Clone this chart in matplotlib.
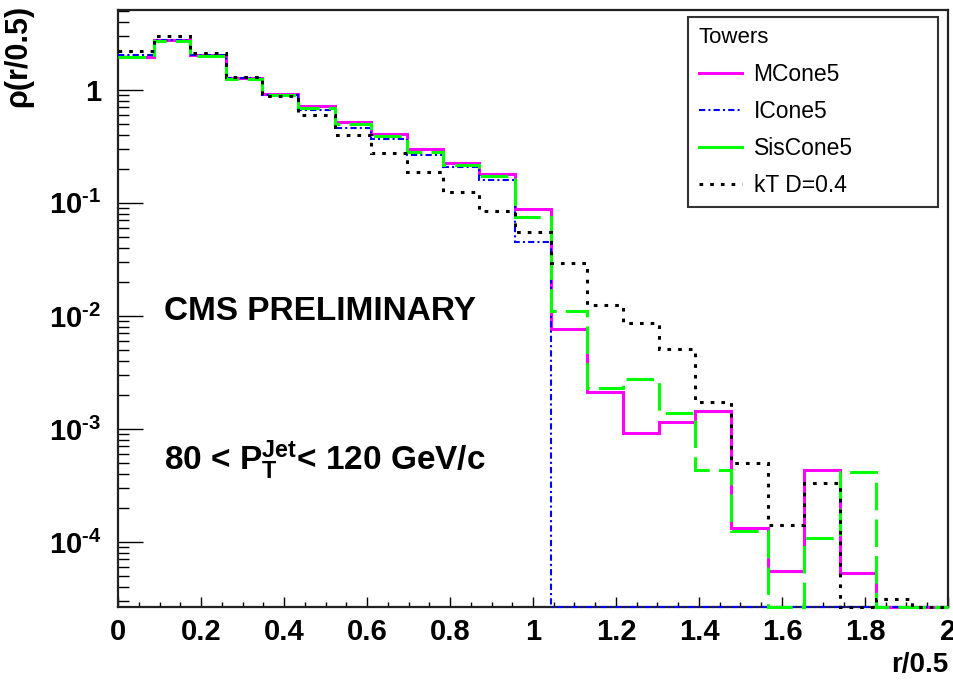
import numpy as np
import matplotlib
matplotlib.use('Agg')
import matplotlib.pyplot as plt
from matplotlib.lines import Line2D
from matplotlib.ticker import FixedLocator, FixedFormatter, LogLocator, MultipleLocator, NullFormatter

plt.rcParams['font.family'] = ['Liberation Sans', 'DejaVu Sans']
plt.rcParams['font.weight'] = 'bold'
plt.rcParams['mathtext.fontset'] = 'custom'
plt.rcParams['mathtext.rm'] = 'Liberation Sans:bold'
plt.rcParams['mathtext.it'] = 'Liberation Sans:bold'
plt.rcParams['mathtext.bf'] = 'Liberation Sans:bold'

## histogram binning, r/0.5 from 0 to 2
n_bins = 23
edges = np.linspace(0, 2, n_bins + 1)

## jet shape per algorithm (towers), 80 < pT < 120
mcone5 = [1.96, 2.75, 2.02, 1.27, 0.91, 0.72, 0.52, 0.41, 0.30, 0.226, 0.181, 0.0885,
          0.00767, 0.00212, 0.00092, 0.00115, 0.00144, 0.000133, 5.5e-5, 0.000434, 5.3e-5, 0, 0]
icone5 = [2.04, 2.75, 2.02, 1.26, 0.90, 0.665, 0.46, 0.37, 0.266, 0.208, 0.16, 0.045,
          0, 0, 0, 0, 0, 0, 0, 0, 0, 0, 0]
siscone5 = [1.96, 2.71, 2.0, 1.25, 0.90, 0.693, 0.50, 0.39, 0.282, 0.217, 0.174, 0.075,
            0.0111, 0.00231, 0.00277, 0.00139, 0.000434, 0.000125, 0, 0.000108, 0.000416, 0, 0]
kt04 = [2.21, 3.0, 2.12, 1.30, 0.885, 0.60, 0.40, 0.277, 0.188, 0.125, 0.085, 0.0554,
        0.0294, 0.0125, 0.00867, 0.0051, 0.00173, 0.0005, 0.000141, 0.000333, 0, 3.1e-5, 0]

y_ticks = [1e-4, 1e-3, 1e-2, 1e-1, 1]
y_tick_labels = ['$10^{\u20104}$', '$10^{\u20103}$', '$10^{\u20102}$', '$10^{\u20101}$', '1']

ymin, ymax = 2.66e-5, 5.1

fig = plt.figure(figsize=(9.54, 6.84), dpi=100)
ax = fig.add_axes([0.1237, 0.1126, 0.870, 0.873])
ax.set_yscale('log')

def draw(vals, **kw):
    v = np.array(vals, dtype=float)
    v = np.where(v > 0, v, ymin)  # empty bins sit on the frame like in ROOT
    ax.stairs(v, edges, baseline=None, clip_on=False, zorder=3, **kw)

draw(mcone5, color='#ff00ff', lw=2.2, linestyle='-')
draw(icone5, color='#0000ff', lw=1.5, linestyle=(0, (3, 1.5, 1, 1.5)))
draw(siscone5, color='#00ff00', lw=2.2, linestyle=(0, (9, 3)))
draw(kt04, color='black', lw=2.2, linestyle=(0, (1.2, 2.3)))

ax.set_xlim(0, 2)
ax.set_ylim(ymin, ymax)

ax.xaxis.set_major_locator(MultipleLocator(0.2))
ax.xaxis.set_minor_locator(MultipleLocator(0.05))
ax.xaxis.set_major_formatter(matplotlib.ticker.FuncFormatter(lambda x, p: '%g' % round(x, 1)))
ax.yaxis.set_major_locator(FixedLocator(y_ticks))
ax.yaxis.set_major_formatter(FixedFormatter(y_tick_labels))
ax.yaxis.set_minor_locator(LogLocator(base=10, subs=np.arange(2, 10)))
ax.yaxis.set_minor_formatter(NullFormatter())

ax.tick_params(axis='x', which='major', direction='in', length=7.2, width=1.0, labelsize=21, pad=8)
ax.tick_params(axis='x', which='minor', direction='in', length=3.6, width=1.0)
ax.tick_params(axis='y', which='major', direction='in', length=18, width=1.0, labelsize=21, pad=12)
ax.tick_params(axis='y', which='minor', direction='in', length=8, width=1.0)
for s in ax.spines.values():
    s.set_linewidth(1.6)
    s.set_color('#222222')

ax.text(0.056, 0.495, 'CMS PRELIMINARY', transform=ax.transAxes, fontsize=24,
        fontweight='bold', ha='left', va='center')
ax.text(0.056, 0.245, r'80 < P$_{T}^{Jet}$< 120 GeV/c', transform=ax.transAxes, fontsize=24,
        fontweight='bold', ha='left', va='center')

fig.text(0.994, 0.028, 'r/0.5', fontsize=20, fontweight='bold', ha='right', va='center')
fig.text(0.019, 0.993, 'ρ(r/0.5)', fontsize=22, fontweight='bold',
         ha='center', va='top', rotation=90)

handles = [
    Line2D([], [], color='#ff00ff', lw=2.2),
    Line2D([], [], color='#0000ff', lw=1.5, linestyle=(0, (3, 1.5, 1, 1.5))),
    Line2D([], [], color='#00ff00', lw=2.2),
    Line2D([], [], color='black', lw=2.2, linestyle=(0, (1.2, 2.3))),
]
labels = ['MCone5', 'ICone5', 'SisCone5', 'kT D=0.4']
leg = ax.legend(handles, labels, title='Towers', loc='upper left',
                bbox_to_anchor=(0.687, 0.690, 0.301, 0.298), mode='expand', alignment='left',
                prop={'size': 16.5, 'weight': 'normal'},
                title_fontproperties={'size': 16, 'weight': 'normal'},
                handlelength=1.9, handletextpad=0.5, labelspacing=0.62, borderpad=0.45,
                borderaxespad=0, fancybox=False, framealpha=1, edgecolor='#333333')
leg.get_frame().set_linewidth(1.5)
leg.set_zorder(5)

fig.savefig('out.png', dpi=100)
